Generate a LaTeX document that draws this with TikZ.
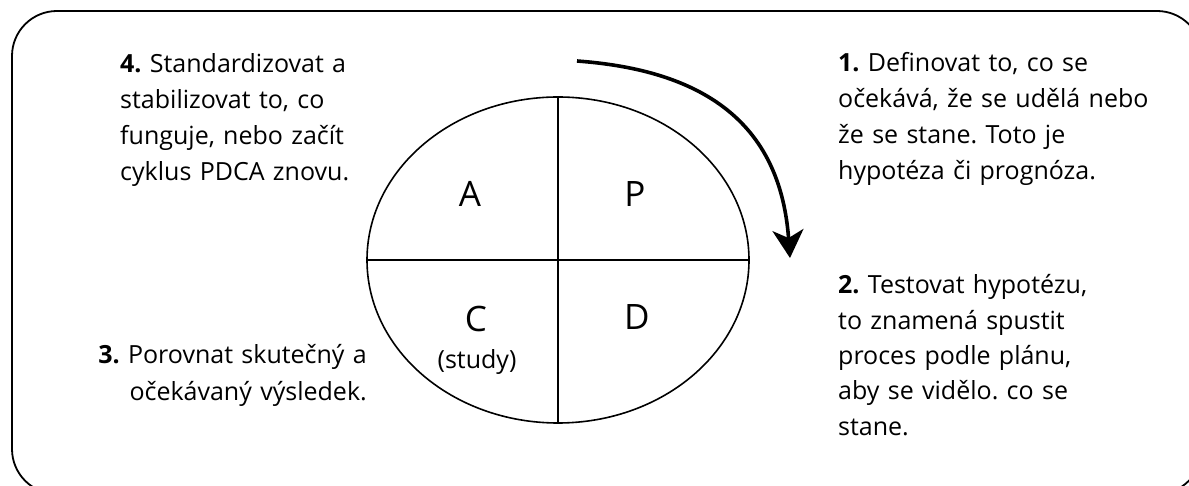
\documentclass[tikz,border=0pt]{standalone}
\usepackage{fontspec}
\setmainfont{Open Sans}
\usetikzlibrary{arrows.meta,shapes.geometric}
\frenchspacing
\begin{document}
\begin{tikzpicture}[x=1pt,y=-1pt,
  para/.style={font=\fontsize{25}{36}\selectfont, inner sep=0pt, text width=340pt, align=left, anchor=base west},
  parar/.style={font=\fontsize{25}{37}\selectfont, inner sep=0pt, text width=340pt, align=right, anchor=base east},
  letter/.style={font=\fontsize{35}{40}\selectfont, inner sep=0pt, anchor=base},
  small/.style={font=\fontsize{25}{30}\selectfont, inner sep=0pt, anchor=base},
  frame/.style={draw, line width=1.8pt, rounded corners=45pt},
  oval/.style={draw, ellipse, line width=1.6pt, minimum width=382pt, minimum height=326pt, inner sep=0pt},
  cross/.style={draw, line width=1.2pt},
  cyc/.style={line width=3.6pt, -{Stealth[length=28pt,width=31pt,inset=8pt]}}
]
\useasboundingbox (0,0) rectangle (1189,486);
\clip (0,0) rectangle (1189,486);
\fill[white] (0,0) rectangle (1189,486);
\draw[frame] (12,11) rectangle (1202,494);

\node[oval] (E) at (558,260) {};
\draw[cross] (E.north) -- (E.south);
\draw[cross] (E.west) -- (E.east);

\node[letter] (A) at (470,207) {A};
\node[letter] (P) at (635,207) {P};
\node[letter] (C) at (476,332) {C};
\node[letter] (D) at (637,330) {D};
\node[small] (study) at (477,368) {(study)};

\coordinate (s) at (577,61);
\coordinate (t) at (790,258);
\draw[cyc] (s) .. controls (700,70) and (780,120) .. (t);

\node[para] (t4) at (120,73) {\textbf{4.} Standardizovat a\\stabilizovat to, co\\funguje, nebo začít\\cyklus PDCA znovu.};
\node[para] (t1) at (838,72) {\textbf{1.} Definovat to, co se\\očekává, že se udělá nebo\\že se stane. Toto je\\hypotéza či prognóza.};
\node[para, font=\fontsize{25}{35.3}\selectfont] (t2) at (838,294) {\textbf{2.} Testovat hypotézu,\\to znamená spustit\\proces podle plánu,\\aby se vidělo. co se\\stane.};
\node[parar] (t3) at (367,363) {\textbf{3.} Porovnat skutečný a\\očekávaný výsledek.};
\end{tikzpicture}
\end{document}
